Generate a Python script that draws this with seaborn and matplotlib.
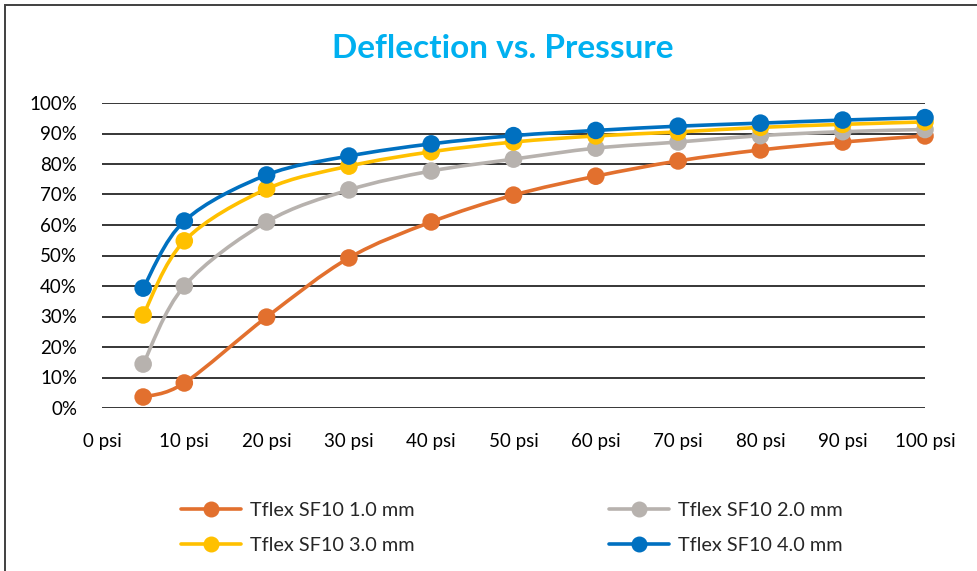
import matplotlib
matplotlib.use("Agg")
import matplotlib.pyplot as plt
from matplotlib.path import Path
from matplotlib.patches import PathPatch, Rectangle
from matplotlib.lines import Line2D
import seaborn as sns
import pandas as pd
import numpy as np

# data
pressure = [5, 10, 20, 30, 40, 50, 60, 70, 80, 90, 100]
sf10_1mm = [0.036, 0.082, 0.298, 0.492, 0.610, 0.698, 0.760, 0.810, 0.846, 0.872, 0.892]
sf10_2mm = [0.144, 0.400, 0.610, 0.715, 0.777, 0.816, 0.852, 0.872, 0.893, 0.906, 0.913]
sf10_3mm = [0.305, 0.548, 0.718, 0.793, 0.840, 0.872, 0.892, 0.905, 0.920, 0.930, 0.938]
sf10_4mm = [0.393, 0.613, 0.764, 0.826, 0.866, 0.893, 0.910, 0.924, 0.934, 0.944, 0.952]
series_names = ["Tflex SF10 1.0 mm", "Tflex SF10 2.0 mm", "Tflex SF10 3.0 mm", "Tflex SF10 4.0 mm"]
colors = ["#E2702E", "#B7B2AE", "#FFC000", "#0070C0"]

df = pd.concat([
    pd.DataFrame({"psi": pressure, "deflection": vals, "series": name})
    for name, vals in zip(series_names, [sf10_1mm, sf10_2mm, sf10_3mm, sf10_4mm])
])

sns.set_style("white")
plt.rcParams['font.family'] = ['Lato', 'DejaVu Sans']

fig = plt.figure(figsize=(9.77, 5.71), dpi=100)
ax = fig.add_axes([102 / 977, 1 - 408 / 571, 823 / 977, 305 / 571])

# outer chart border (cut off on the right and bottom, like the screenshot)
fig.patches.append(Rectangle((5 / 977, -0.1), 1.2, (566 / 571) + 0.1, transform=fig.transFigure,
                             fill=False, edgecolor="#404040", linewidth=1.4))


def smooth_path(xs, ys):
    # excel-like smoothed line: cubic bezier segments through the data points
    pts = np.column_stack([xs, ys])
    verts = [pts[0]]
    codes = [Path.MOVETO]
    n = len(pts)
    for i in range(n - 1):
        p0 = pts[i - 1] if i > 0 else pts[i]
        p1, p2 = pts[i], pts[i + 1]
        p3 = pts[i + 2] if i + 2 < n else pts[i + 1]
        verts += [p1 + (p2 - p0) / 6, p2 - (p3 - p1) / 6, p2]
        codes += [Path.CURVE4] * 3
    return Path(verts, codes)


for k, (name, col) in enumerate(zip(series_names, colors)):
    sub = df[df["series"] == name]
    ax.add_patch(PathPatch(smooth_path(sub["psi"].values, sub["deflection"].values),
                           fill=False, edgecolor=col, linewidth=2.6, zorder=3 + 2 * k,
                           capstyle="round", joinstyle="round"))
    sns.scatterplot(data=sub, x="psi", y="deflection", color=col, s=160,
                    edgecolor="none", ax=ax, zorder=4 + 2 * k, legend=False)

ax.set_xlim(0, 100)
ax.set_ylim(0, 1)
ax.set_xticks(range(0, 101, 10))
ax.set_xticklabels([f"{v} psi" for v in range(0, 101, 10)])
ax.set_yticks(np.arange(0, 1.01, 0.1))
ax.set_yticklabels([f"{int(round(v * 100))}%" for v in np.arange(0, 1.01, 0.1)])
ax.set_xlabel("")
ax.set_ylabel("")
ax.grid(axis="y", color="#262626", linewidth=1.3)
ax.set_axisbelow(True)
for s in ax.spines.values():
    s.set_visible(False)
ax.tick_params(axis="both", length=0, labelsize=13.5, colors="black")
ax.tick_params(axis="y", pad=18)
ax.tick_params(axis="x", pad=18)
for art in ax.patches:
    art.set_clip_on(False)
for c in ax.collections:
    c.set_clip_on(False)

fig.text(0.515, 1 - 48 / 571, "Deflection vs. Pressure", ha="center", va="center",
         fontsize=24, fontweight="bold", color="#00B0F0")

# legend fills row by row in the reference: 1.0 | 2.0 / 3.0 | 4.0
order = [0, 2, 1, 3]
handles = [Line2D([0], [0], color=colors[i], linewidth=2.6, marker="o", markersize=10.5,
                  markeredgecolor=colors[i]) for i in order]
fig.legend(handles, [series_names[i] for i in order], loc="center",
           bbox_to_anchor=(512 / 977, 1 - 528 / 571), ncol=2,
           frameon=False, fontsize=14.3, handlelength=3.0, columnspacing=9.8,
           labelspacing=0.9, handletextpad=0.45)

fig.savefig("out.png", dpi=100)
